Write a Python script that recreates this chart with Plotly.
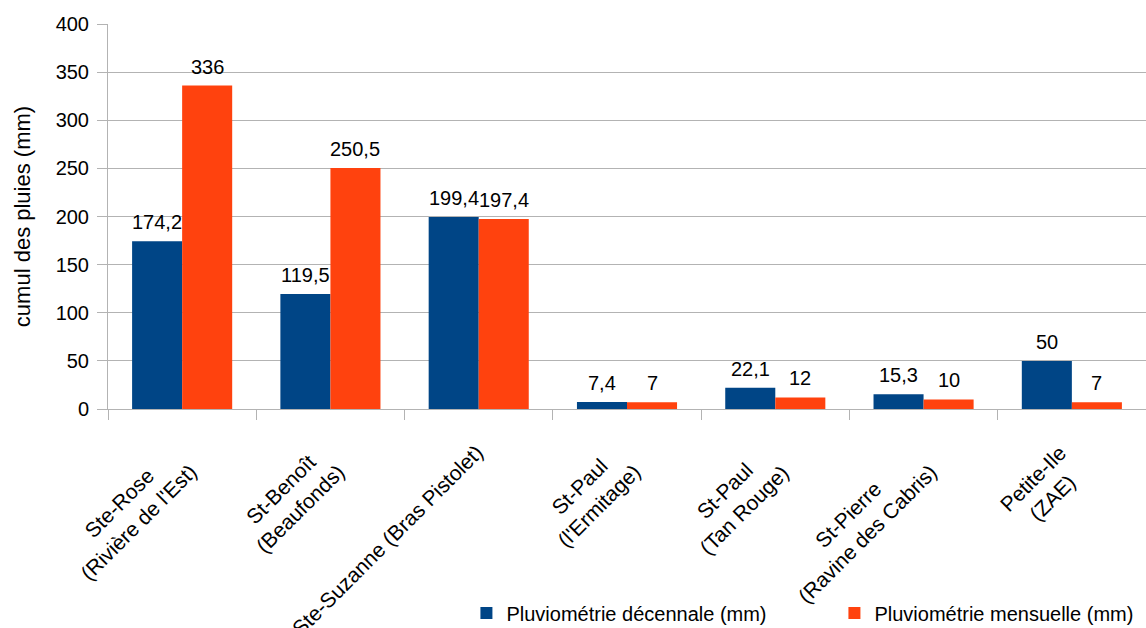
import plotly.graph_objects as go

stations = [
    "Ste-Rose<br>(Rivière de l'Est)",
    "St-Benoît<br>(Beaufonds)",
    "Ste-Suzanne (Bras Pistolet)",
    "St-Paul<br>(l'Ermitage)",
    "St-Paul<br>(Tan Rouge)",
    "St-Pierre<br>(Ravine des Cabris)",
    "Petite-Ile<br>(ZAE)",
]
decennale = [174.2, 119.5, 199.4, 7.4, 22.1, 15.3, 50]
mensuelle = [336, 250.5, 197.4, 7, 12, 10, 7]
series_names = ["Pluviométrie décennale (mm)", "Pluviométrie mensuelle (mm)"]
series_colors = ["#004586", "#ff420e"]

FONT = "Liberation Sans, Arial, sans-serif"
FS = 20
CAT_FS = 21
BARGAP = 0.325
LINE_H = 1.3 * CAT_FS


def fr(v):
    return f"{v:g}".replace(".", ",")


cat_idx = list(range(len(stations)))

fig = go.Figure()
for name, vals, col in zip(series_names, [decennale, mensuelle], series_colors):
    fig.add_trace(go.Bar(
        x=cat_idx, y=vals, name=name,
        marker=dict(color=col, line=dict(width=0)),
        hoverinfo="x+y",
    ))

# value labels above each bar (half a bar width left/right of the category)
half = (1 - BARGAP) / 4
for offset, vals in zip([-half, half], [decennale, mensuelle]):
    for i, v in enumerate(vals):
        fig.add_annotation(
            x=i + offset, y=v, xref="x", yref="y", text=fr(v),
            showarrow=False, xanchor="center", yanchor="bottom", yshift=6,
            font=dict(family=FONT, size=FS, color="#000000"),
        )

# rotated category labels, hanging under each category
for i, lab in enumerate(stations):
    nlines = lab.count("<br>") + 1
    block_h = nlines * LINE_H + 4
    fig.add_annotation(
        x=i, y=0, xref="x", yref="paper", text=lab, textangle=-45,
        showarrow=False, xanchor="right", yanchor="top", align="center",
        xshift=0.35 * block_h, yshift=-29,
        font=dict(family=FONT, size=CAT_FS, color="#000000"),
    )

fig.update_layout(
    width=1146, height=628,
    margin=dict(l=108, r=0, t=24, b=219, autoexpand=False),
    paper_bgcolor="white", plot_bgcolor="white",
    font=dict(family=FONT, size=FS, color="#000000"),
    barmode="group", bargap=BARGAP, bargroupgap=0,
    showlegend=True,
    legend=dict(
        orientation="h", xref="container", yref="container",
        x=0.407, xanchor="left", y=0.024, yanchor="middle",
        font=dict(family=FONT, size=FS), entrywidth=323,
        bgcolor="rgba(0,0,0,0)", tracegroupgap=0,
    ),
)
fig.update_yaxes(
    range=[0, 400], dtick=50, showgrid=True, gridcolor="#b3b3b3", gridwidth=1,
    showline=True, linecolor="#b3b3b3", ticks="outside", ticklen=10,
    tickcolor="#b3b3b3", zeroline=False, automargin=False,
    tickfont=dict(size=FS), ticklabelstandoff=4,
    title=dict(text="cumul des pluies (mm)", font=dict(size=22), standoff=18),
)
fig.update_xaxes(
    type="linear", range=[-0.5, len(stations) - 0.5],
    tickvals=[i - 0.5 for i in range(len(stations) + 1)],
    showticklabels=False, showgrid=False, zeroline=False,
    showline=True, linecolor="#b3b3b3", ticks="outside",
    ticklen=10, tickcolor="#b3b3b3", automargin=False,
)

fig.write_html("out.html")
